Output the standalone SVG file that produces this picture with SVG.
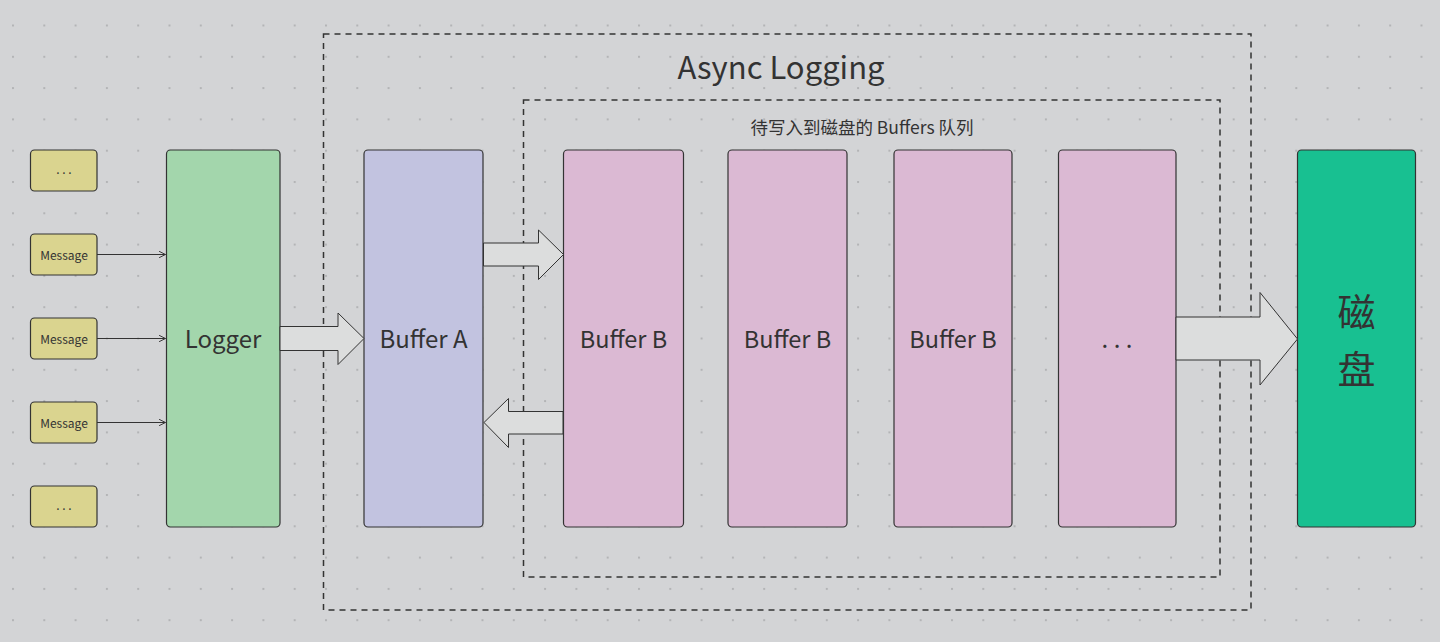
<svg xmlns="http://www.w3.org/2000/svg" width="1440" height="642" viewBox="0 0 1440 642">
<defs>
<pattern id="dots" x="12" y="24.5" width="31.3" height="31.3" patternUnits="userSpaceOnUse">
<rect x="0" y="0" width="2" height="2" fill="#b3b4b6"/>
</pattern>
<marker id="ah" viewBox="0 0 10 10" refX="9" refY="5" markerWidth="8" markerHeight="8" markerUnits="userSpaceOnUse" orient="auto">
<path d="M1,1 L9,5 L1,9" fill="none" stroke="#333" stroke-width="1.2"/>
</marker>
</defs>
<style>
.node{stroke:#333;stroke-width:1.2}
.msg{fill:#dad48f}
.t{font-family:"Noto Sans CJK SC","Noto Sans",sans-serif;fill:#333;text-anchor:middle;dominant-baseline:central}
.dash{fill:none;stroke:#333;stroke-width:1.5;stroke-dasharray:6 5}
.barrow{fill:#dcdddd;stroke:#333;stroke-width:1}
.line{stroke:#333;stroke-width:1.2;fill:none}
</style>
<rect width="1440" height="642" fill="#d3d4d6"/>
<rect width="1440" height="642" fill="url(#dots)"/>

<g id="async-logging">
<rect class="dash" x="323.5" y="34" width="927.5" height="576"/>
<text class="t" x="781" y="65" font-size="31">Async Logging</text>
</g>
<g id="queue">
<rect class="dash" x="523.5" y="100" width="696.5" height="477"/>
<text class="t" x="862" y="126.5" font-size="17.5">待写入到磁盘的 Buffers 队列</text>
</g>

<g id="msg1"><rect class="node msg" x="30.5" y="150" width="66.5" height="41" rx="4"/><text class="t" x="64" y="168" font-size="12">. . .</text></g>
<g id="msg2"><rect class="node msg" x="30.5" y="234" width="66.5" height="41" rx="4"/><text class="t" x="64" y="254" font-size="12">Message</text></g>
<g id="msg3"><rect class="node msg" x="30.5" y="318" width="66.5" height="41" rx="4"/><text class="t" x="64" y="338" font-size="12">Message</text></g>
<g id="msg4"><rect class="node msg" x="30.5" y="402" width="66.5" height="41" rx="4"/><text class="t" x="64" y="422" font-size="12">Message</text></g>
<g id="msg5"><rect class="node msg" x="30.5" y="486" width="66.5" height="41" rx="4"/><text class="t" x="64" y="504" font-size="12">. . .</text></g>

<g id="logger"><rect class="node" fill="#a3d6ac" x="166.5" y="150" width="113.5" height="377" rx="4"/><text class="t" x="223" y="337.5" font-size="24">Logger</text></g>
<g id="buffer-a"><rect class="node" fill="#c2c3e0" x="364" y="150" width="119" height="377" rx="4"/><text class="t" x="423.5" y="337.5" font-size="24">Buffer A</text></g>
<g id="buffer-b1"><rect class="node" fill="#dbb9d3" x="563.5" y="150" width="120" height="377" rx="4"/><text class="t" x="623.5" y="337.5" font-size="23.5">Buffer B</text></g>
<g id="buffer-b2"><rect class="node" fill="#dbb9d3" x="728" y="150" width="119" height="377" rx="4"/><text class="t" x="787.5" y="337.5" font-size="23.5">Buffer B</text></g>
<g id="buffer-b3"><rect class="node" fill="#dbb9d3" x="894" y="150" width="118" height="377" rx="4"/><text class="t" x="953" y="337.5" font-size="23.5">Buffer B</text></g>
<g id="buffer-more"><rect class="node" fill="#dbb9d3" x="1058.5" y="150" width="117.5" height="377" rx="4"/><text class="t" x="1117" y="337.5" font-size="24">. . .</text></g>
<g id="disk"><rect class="node" fill="#18c091" x="1297.5" y="150" width="118" height="377" rx="4"/><text class="t" x="1356.5" y="309" font-size="38">磁</text><text class="t" x="1356.5" y="366" font-size="38">盘</text></g>

<g id="connectors">
<line class="line" x1="97" y1="254.5" x2="165.5" y2="254.5" marker-end="url(#ah)"/>
<line class="line" x1="97" y1="338.5" x2="165.5" y2="338.5" marker-end="url(#ah)"/>
<line class="line" x1="97" y1="422.5" x2="165.5" y2="422.5" marker-end="url(#ah)"/>
<path class="barrow" d="M280,326.5 H338 V313 L364,338.5 L338,364.5 V350.5 H280 Z"/>
<path class="barrow" d="M483.5,243 H538.5 V230 L563.5,254.5 L538.5,279.5 V266 H483.5 Z"/>
<path class="barrow" d="M563,411.5 H508.5 V398.5 L484,422.5 L508.5,447.5 V434 H563 Z"/>
<path class="barrow" d="M1176,317 H1260 V292.5 L1297.5,339 L1260,385 V360 H1176 Z"/>
</g>
</svg>
